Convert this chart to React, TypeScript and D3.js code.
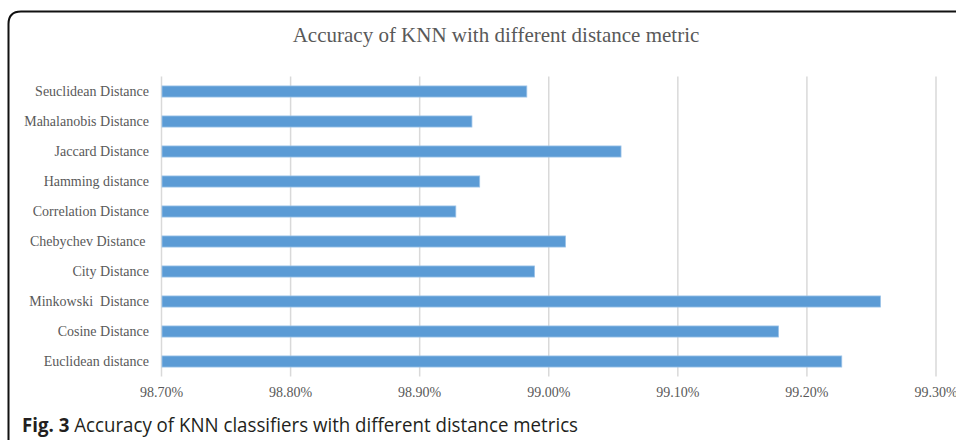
import React from "react";
import * as d3 from "d3";

const categories = [
  "Seuclidean Distance",
  "Mahalanobis Distance",
  "Jaccard Distance",
  "Hamming distance",
  "Correlation Distance",
  "Chebychev Distance ",
  "City Distance",
  "Minkowski  Distance",
  "Cosine Distance",
  "Euclidean distance",
];
const values = [98.983, 98.9405, 99.056, 98.9465, 98.928, 99.013, 98.989, 99.257, 99.178, 99.227];
const ticks = [98.7, 98.8, 98.9, 99.0, 99.1, 99.2, 99.3];

const W = 956;
const H = 440;
const SERIF = "'Liberation Serif', 'Times New Roman', serif";

export default function App() {
  const x = d3.scaleLinear().domain([98.7, 99.3]).range([161.5, 936]);
  const y = d3.scaleBand().domain(categories).range([76.5, 376.5]).paddingInner(0.63).paddingOuter(0.315);
  const fmt = (v: number) => v.toFixed(2) + "%";
  return (
    <svg width={W} height={H} style={{ position: "absolute", left: 0, top: 0, background: "#fff" }}>
      <path d="M8.5,440 L8.5,24 Q8.5,11.5 21,11.5 L956,11.5" fill="none" stroke="#111" strokeWidth={2} />
      <text x={496} y={42} textAnchor="middle" fontFamily={SERIF} fontSize={21} fill="#595959">
        Accuracy of KNN with different distance metric
      </text>
      {ticks.map((t) => (
        <line key={t} x1={x(t)} x2={x(t)} y1={76.5} y2={376.5} stroke="#d9d9d9" strokeWidth={1.5} />
      ))}
      {categories.map((c, i) => (
        <rect
          key={c}
          x={x(98.7) + 0.5}
          y={y(c)!}
          width={x(values[i]) - x(98.7) - 0.5}
          height={y.bandwidth()}
          fill="#5b9bd5"
          stroke="#9cc3e8"
          strokeWidth={0.8}
        />
      ))}
      {categories.map((c) => (
        <text
          key={c}
          x={149}
          y={y(c)! + y.bandwidth() / 2}
          dy="0.35em"
          textAnchor="end"
          fontFamily={SERIF}
          fontSize={14}
          fill="#595959"
          style={{ whiteSpace: "pre" }}
        >
          {c}
        </text>
      ))}
      {ticks.map((t) => (
        <text key={t} x={x(t)} y={397} textAnchor="middle" fontFamily={SERIF} fontSize={14} fill="#595959">
          {fmt(t)}
        </text>
      ))}
      <text x={22} y={432} fontFamily="'Open Sans', sans-serif" fontSize={19.5} fill="#231f20" textLength={556} lengthAdjust="spacingAndGlyphs">
        <tspan fontWeight="bold">Fig. 3</tspan> Accuracy of KNN classifiers with different distance metrics
      </text>
    </svg>
  );
}
